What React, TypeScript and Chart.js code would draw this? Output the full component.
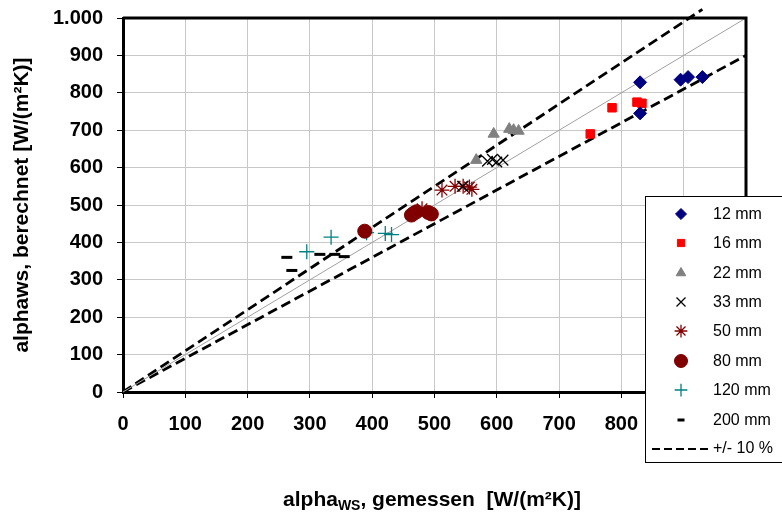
import React, { useEffect, useRef } from "react";
import { Chart, registerables } from "chart.js";
import { drawPoint } from "chart.js/helpers";

Chart.register(...registerables);

// ---- data ----
const seriesNames = ["12 mm", "16 mm", "22 mm", "33 mm", "50 mm", "80 mm", "120 mm", "200 mm"];

const x12 = [830, 830, 895, 907, 930];
const y12 = [828, 745, 835, 842, 842];
const x16 = [750, 785, 825, 833];
const y16 = [690, 760, 775, 772];
const x22 = [567, 595, 620, 627, 635];
const y22 = [620, 690, 703, 700, 698];
const x33 = [545, 585, 593, 600, 610];
const y33 = [550, 617, 622, 615, 620];
const x50 = [480, 512, 533, 546, 556, 560];
const y50 = [490, 540, 550, 550, 548, 542];
const x80 = [388, 463, 467, 471, 490, 495];
const y80 = [430, 473, 478, 482, 480, 476];
const x120 = [295, 334, 391, 421, 431];
const y120 = [375, 414, 426, 424, 421];
const x200 = [263, 271, 316, 340, 355];
const y200 = [360, 325, 368, 368, 362];

const diagX = [0, 1000];
const diagY = [0, 1000];
const upperX = [0, 930];
const upperY = [0, 1023];
const lowerX = [0, 1000];
const lowerY = [0, 900];

const tickValues = [0, 100, 200, 300, 400, 500, 600, 700, 800, 900, 1000];
const tickLabels = ["0", "100", "200", "300", "400", "500", "600", "700", "800", "900", "1.000"];

const zip = (xs: number[], ys: number[]) => xs.map((x, i) => ({ x, y: ys[i] }));

const pointSeries = [
  { label: seriesNames[0], xs: x12, ys: y12, style: "rectRot", color: "#000080", radius: 6.5, bw: 1 },
  { label: seriesNames[1], xs: x16, ys: y16, style: "rect", color: "#ff0000", radius: 6, bw: 1 },
  { label: seriesNames[2], xs: x22, ys: y22, style: "triangle", color: "#808080", radius: 6.5, bw: 1 },
  { label: seriesNames[3], xs: x33, ys: y33, style: "crossRot", color: "#000000", radius: 7.5, bw: 1.3 },
  { label: seriesNames[4], xs: x50, ys: y50, style: "star", color: "#800000", radius: 7.5, bw: 1.3 },
  { label: seriesNames[5], xs: x80, ys: y80, style: "circle", color: "#800000", radius: 7, bw: 1 },
  { label: seriesNames[6], xs: x120, ys: y120, style: "cross", color: "#008080", radius: 7.5, bw: 1.3 },
  { label: seriesNames[7], xs: x200, ys: y200, style: "line", color: "#000000", radius: 5.5, bw: 3 },
];

const FONT = "'Liberation Sans', Arial, sans-serif";

const decorPlugin = {
  id: "decor",
  afterDatasetsDraw(chart: any) {
    const { ctx, chartArea } = chart;
    ctx.save();
    ctx.strokeStyle = "#000";
    ctx.lineWidth = 3;
    ctx.beginPath();
    ctx.moveTo(chartArea.left, chartArea.top);
    ctx.lineTo(chartArea.right, chartArea.top);
    ctx.lineTo(chartArea.right, chartArea.bottom);
    ctx.stroke();
    ctx.restore();
  },
  afterDraw(chart: any) {
    const { ctx } = chart;
    ctx.save();
    // legend box
    const lx = 645, ly = 196, lw = 150, lh = 266;
    ctx.fillStyle = "#fff";
    ctx.fillRect(lx, ly, lw, lh);
    ctx.strokeStyle = "#000";
    ctx.lineWidth = 1;
    ctx.strokeRect(lx + 0.5, ly + 0.5, lw, lh);
    ctx.font = `16px ${FONT}`;
    ctx.textBaseline = "middle";
    ctx.textAlign = "left";
    const rowY = [214, 243, 273, 302, 331, 361, 390, 420, 449];
    pointSeries.forEach((s, i) => {
      ctx.fillStyle = s.color;
      ctx.strokeStyle = s.color;
      ctx.lineWidth = s.bw;
      const r = s.style === "circle" ? 6.5 : s.style === "line" ? 3.5 : s.radius * 0.85;
      drawPoint(ctx, { pointStyle: s.style, radius: r, rotation: 0, borderWidth: s.bw }, 681, rowY[i]);
      ctx.fillStyle = "#000";
      ctx.fillText(s.label, 713, rowY[i] + 1);
    });
    ctx.strokeStyle = "#000";
    ctx.lineWidth = 2;
    ctx.setLineDash([8, 4]);
    ctx.beginPath();
    ctx.moveTo(652, 449);
    ctx.lineTo(711, 449);
    ctx.stroke();
    ctx.setLineDash([]);
    ctx.fillStyle = "#000";
    ctx.fillText("+/- 10 %", 713, 449);

    // axis titles
    ctx.fillStyle = "#000";
    ctx.textBaseline = "alphabetic";
    const p1 = "alpha";
    const sub = "WS";
    const p2 = ", gemessen  [W/(m\u00B2K)]";
    ctx.font = `bold 21px ${FONT}`;
    const w1 = ctx.measureText(p1).width;
    const w3 = ctx.measureText(p2).width;
    ctx.font = `bold 14px ${FONT}`;
    const w2 = ctx.measureText(sub).width;
    const total = w1 + w2 + w3;
    let sx = 432 - total / 2;
    const by = 506;
    ctx.font = `bold 21px ${FONT}`;
    ctx.fillText(p1, sx, by);
    sx += w1;
    ctx.font = `bold 14px ${FONT}`;
    ctx.fillText(sub, sx, by + 4);
    sx += w2;
    ctx.font = `bold 21px ${FONT}`;
    ctx.fillText(p2, sx, by);

    ctx.translate(28, 205);
    ctx.rotate(-Math.PI / 2);
    ctx.textAlign = "center";
    ctx.fillText("alphaws, berechnet [W/(m\u00B2K)]", 0, 0);
    ctx.restore();
  },
};

export default function App() {
  const ref = useRef<HTMLCanvasElement | null>(null);
  useEffect(() => {
    if (!ref.current) return;
    const lineDs = (xs: number[], ys: number[], color: string, width: number, dash: number[]) => ({
      type: "line" as const,
      data: zip(xs, ys),
      borderColor: color,
      borderWidth: width,
      borderDash: dash,
      pointRadius: 0,
      fill: false,
      clip: false as any,
      order: 10,
    });
    const chart = new Chart(ref.current, {
      type: "scatter",
      data: {
        datasets: [
          lineDs(diagX, diagY, "#a0a0a0", 1, []),
          lineDs(upperX, upperY, "#000", 2.8, [10, 5]),
          lineDs(lowerX, lowerY, "#000", 2.8, [10, 5]),
          ...pointSeries.map((s) => ({
            label: s.label,
            data: zip(s.xs, s.ys),
            pointStyle: s.style as any,
            pointRadius: s.radius,
            pointBorderWidth: s.bw,
            backgroundColor: s.color,
            borderColor: s.color,
            showLine: false,
            order: 1,
          })),
        ] as any,
      },
      options: {
        responsive: false,
        animation: false,
        layout: { padding: { top: 18, right: 36, left: 0, bottom: 0 } },
        plugins: { legend: { display: false }, tooltip: { enabled: false } },
        scales: {
          x: {
            type: "linear",
            min: 0,
            max: 1000,
            afterBuildTicks: (s: any) => {
              s.ticks = tickValues.map((v) => ({ value: v }));
            },
            afterFit: (s: any) => {
              s.height = 121;
              s.paddingLeft = 0;
              s.paddingRight = 0;
            },
            ticks: {
              callback: (v: any) => tickLabels[tickValues.indexOf(Number(v))] ?? "",
              font: { family: FONT, size: 20, weight: "bold" },
              color: "#000",
              padding: 14,
              maxRotation: 0,
              autoSkip: false,
            },
            grid: { color: "#c8c8c8", lineWidth: 1, tickColor: "#000", tickLength: 6 },
            border: { display: true, color: "#000", width: 3 },
          },
          y: {
            type: "linear",
            min: 0,
            max: 1000,
            afterBuildTicks: (s: any) => {
              s.ticks = tickValues.map((v) => ({ value: v }));
            },
            afterFit: (s: any) => {
              s.width = 123;
              s.paddingTop = 0;
              s.paddingBottom = 0;
            },
            ticks: {
              callback: (v: any) => tickLabels[tickValues.indexOf(Number(v))] ?? "",
              font: { family: FONT, size: 20, weight: "bold" },
              color: "#000",
              padding: 14,
              autoSkip: false,
            },
            grid: { color: "#c8c8c8", lineWidth: 1, tickColor: "#000", tickLength: 6 },
            border: { display: true, color: "#000", width: 3 },
          },
        },
      },
      plugins: [decorPlugin],
    });
    return () => chart.destroy();
  }, []);
  return (
    <div style={{ position: "fixed", left: 0, top: 0, width: 782, height: 513, background: "#fff" }}>
      <canvas ref={ref} width={782} height={513} style={{ width: 782, height: 513 }} />
    </div>
  );
}
